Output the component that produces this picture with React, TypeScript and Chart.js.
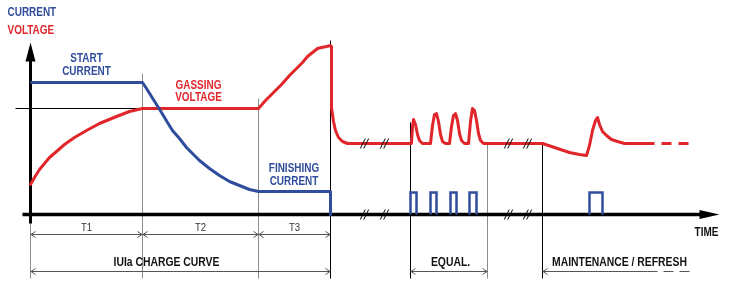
import React, { useEffect, useRef } from "react";
import { Chart, registerables } from "chart.js";

Chart.register(...registerables);

const RED = "#e1262b";
const BLUE = "#2f4d9c";
const GREY = "#8c8c8c";
const FONT = '"Liberation Sans", Arial, sans-serif';
const NARROW = 0.83;

// Voltage curve (t = time, v = level above the time axis)
const voltageT = [0, 4, 9, 14, 19, 26, 34, 44, 56, 69, 86, 99, 112, 228, 235, 242, 251, 259, 266, 272, 277, 282, 287, 291, 296, 300, 301, 301, 303, 305, 308, 312, 317, 381, 382, 383, 385, 387, 389, 392, 400, 402, 404, 406, 408, 410, 412, 415, 419, 421, 423, 425, 427, 429, 431, 434, 438, 440, 442, 444, 446, 448, 450, 453, 512, 524, 539, 549, 556, 559, 562, 565, 567, 569, 572, 576, 581, 587, 594, 614];
const voltageV = [30, 37, 45, 51, 57, 63, 70, 77, 84, 91, 98, 103, 106, 106, 114, 121, 130, 139, 146, 152, 158, 162, 166, 167, 168, 169, 168, 107, 93, 84, 77, 73, 71, 71, 88, 95, 90, 80, 74, 71, 71, 89, 100, 101, 93, 80, 73, 71, 71, 88, 99, 101, 94, 81, 74, 71, 71, 93, 106, 104, 94, 81, 74, 71, 71, 67, 62, 60, 59, 69, 84, 94, 97, 90, 83, 79, 75, 73, 71, 71];
const voltageTailT = [614, 661];
const voltageTailV = [71, 71];

// Current curve
const currentT = [0, 112, 116, 121, 126, 131, 137, 142, 149, 156, 163, 169, 179, 189, 199, 209, 219, 228, 300, 300];
const currentV = [132, 132, 126, 118, 110, 102, 92, 84, 76, 67, 60, 54, 46, 39, 33, 29, 25, 23, 23, 0];

// Equalisation / refresh current pulses
const pulseStartT = [380, 400, 420, 439, 559];
const pulseEndT = [386, 406, 426, 446, 572];
const pulseLevel = 22;

// Phases and annotations
const phaseBoundsT = [0, 112, 228, 300];
const phaseLabels = ["T1", "T2", "T3"];
const chargeSpanT = [0, 300];
const equalSpanT = [380, 457];
const maintSpanT = [512, 617, 661];
const guideT = [0, 112, 228, 300, 380, 457, 512];
const guideTopV = [0, 141, 116, 174, 92, 71, 71];
const guideDark = [false, false, false, true, true, false, true];
const gassingLevelV = 106;
const breakT = [334, 354, 478, 497];
const breakLevelsV = [71, 0];

const labelTexts = ["CURRENT", "VOLTAGE", "START", "CURRENT", "GASSING", "VOLTAGE", "FINISHING", "CURRENT", "IUIa CHARGE CURVE", "EQUAL.", "MAINTENANCE / REFRESH", "TIME"];
const labelT = [-23, -23, 56, 56, 168, 168, 263.5, 263.5, 136, 420, 589, 676];
const labelV = [202, 184, 156, 143, 129, 117, 46, 33, -48, -48, -48, -18];
const labelSize = [12, 12, 12, 12, 12, 12, 12, 12, 12.5, 12.5, 12.5, 12];
const labelColors = [BLUE, RED, BLUE, BLUE, RED, RED, BLUE, BLUE, "#111", "#111", "#111", "#111"];
const labelAlign = ["left", "left", "center", "center", "center", "center", "center", "center", "center", "center", "center", "center"];

const toPoints = (ts: number[], vs: number[]) => ts.map((t, i) => ({ x: t, y: vs[i] }));

const pulsePoints = () => {
  const pts: { x: number; y: number | null }[] = [];
  pulseStartT.forEach((s, i) => {
    const e = pulseEndT[i];
    pts.push({ x: s, y: 0 }, { x: s, y: pulseLevel }, { x: e, y: pulseLevel }, { x: e, y: 0 }, { x: e + 0.1, y: null });
  });
  return pts;
};

const narrowText = (ctx: CanvasRenderingContext2D, txt: string, px: number, py: number, align: CanvasTextAlign, scale: number) => {
  ctx.save();
  ctx.translate(px, py);
  ctx.scale(scale, 1);
  ctx.textAlign = align;
  ctx.fillText(txt, 0, 0);
  ctx.restore();
};

const diagramPlugin = {
  id: "diagram",
  beforeDatasetsDraw(chart: any) {
    const { ctx } = chart;
    const xs = chart.scales.x;
    const ys = chart.scales.y;
    const X = (t: number) => xs.getPixelForValue(t);
    const Y = (v: number) => ys.getPixelForValue(v);
    const bottom = -64;
    ctx.save();
    ctx.lineWidth = 1;
    guideT.forEach((t, i) => {
      ctx.strokeStyle = guideDark[i] ? "#000" : GREY;
      ctx.beginPath();
      ctx.moveTo(X(t), Y(guideTopV[i]));
      ctx.lineTo(X(t), Y(bottom));
      ctx.stroke();
    });
    // gassing reference line
    ctx.strokeStyle = "#000";
    ctx.beginPath();
    ctx.moveTo(X(-15), Y(gassingLevelV));
    ctx.lineTo(X(phaseBoundsT[2]), Y(gassingLevelV));
    ctx.stroke();

    // axes
    ctx.fillStyle = "#000";
    ctx.strokeStyle = "#000";
    ctx.lineWidth = 3;
    ctx.beginPath();
    ctx.moveTo(X(0), Y(-9));
    ctx.lineTo(X(0), Y(155));
    ctx.stroke();
    ctx.beginPath();
    ctx.moveTo(X(0), Y(172));
    ctx.lineTo(X(-5), Y(153));
    ctx.lineTo(X(5), Y(153));
    ctx.closePath();
    ctx.fill();
    ctx.lineWidth = 3.5;
    ctx.beginPath();
    ctx.moveTo(X(-8), Y(0));
    ctx.lineTo(X(672), Y(0));
    ctx.stroke();
    ctx.beginPath();
    ctx.moveTo(X(689), Y(0));
    ctx.lineTo(X(669), Y(4.5));
    ctx.lineTo(X(669), Y(-4.5));
    ctx.closePath();
    ctx.fill();
    ctx.restore();
  },
  afterDatasetsDraw(chart: any) {
    const { ctx } = chart;
    const xs = chart.scales.x;
    const ys = chart.scales.y;
    const X = (t: number) => xs.getPixelForValue(t);
    const Y = (v: number) => ys.getPixelForValue(v);
    ctx.save();

    // break marks
    ctx.strokeStyle = "#000";
    ctx.lineWidth = 1;
    breakT.forEach((t) => {
      breakLevelsV.forEach((v) => {
        [-1.7, 1.7].forEach((d) => {
          ctx.beginPath();
          ctx.moveTo(X(t + d) - 2.5, Y(v) + 5);
          ctx.lineTo(X(t + d) + 2.5, Y(v) - 5);
          ctx.stroke();
        });
      });
    });

    // dimension lines
    const dim = (t1: number, t2: number, v: number, left: boolean, right: boolean, dashed = false) => {
      ctx.strokeStyle = "#555";
      ctx.lineWidth = 1;
      ctx.setLineDash(dashed ? [10, 6] : []);
      ctx.beginPath();
      ctx.moveTo(X(t1), Y(v));
      ctx.lineTo(X(t2), Y(v));
      ctx.stroke();
      ctx.setLineDash([]);
      if (left) {
        ctx.beginPath();
        ctx.moveTo(X(t1) + 5, Y(v) - 3);
        ctx.lineTo(X(t1) + 0.5, Y(v));
        ctx.lineTo(X(t1) + 5, Y(v) + 3);
        ctx.stroke();
      }
      if (right) {
        ctx.beginPath();
        ctx.moveTo(X(t2) - 5, Y(v) - 3);
        ctx.lineTo(X(t2) - 0.5, Y(v));
        ctx.lineTo(X(t2) - 5, Y(v) + 3);
        ctx.stroke();
      }
    };
    const rowT = -20;
    const rowB = -57;
    for (let i = 0; i < phaseLabels.length; i++) {
      dim(phaseBoundsT[i], phaseBoundsT[i + 1], rowT, true, true);
    }
    dim(chargeSpanT[0], chargeSpanT[1], rowB, true, true);
    dim(equalSpanT[0], equalSpanT[1], rowB, true, true);
    dim(maintSpanT[0], maintSpanT[1], rowB, true, false);
    dim(maintSpanT[1], maintSpanT[2], rowB, false, false, true);

    // texts
    ctx.textBaseline = "middle";
    ctx.font = `normal 11.5px ${FONT}`;
    ctx.fillStyle = "#333";
    phaseLabels.forEach((lab, i) => {
      narrowText(ctx, lab, X((phaseBoundsT[i] + phaseBoundsT[i + 1]) / 2), Y(-13), "center", NARROW);
    });
    labelTexts.forEach((txt, i) => {
      ctx.font = `bold ${labelSize[i]}px ${FONT}`;
      ctx.fillStyle = labelColors[i];
      narrowText(ctx, txt, X(labelT[i]), Y(labelV[i]), labelAlign[i] as CanvasTextAlign, NARROW);
    });
    ctx.restore();
  },
};

export default function App() {
  const ref = useRef<HTMLCanvasElement | null>(null);
  useEffect(() => {
    if (!ref.current) return;
    const chart = new Chart(ref.current, {
      type: "line",
      data: {
        datasets: [
          {
            data: toPoints(currentT, currentV),
            borderColor: BLUE,
            borderWidth: 3,
            pointRadius: 0,
            tension: 0,
            borderJoinStyle: "round",
          },
          {
            data: pulsePoints(),
            borderColor: BLUE,
            borderWidth: 2.5,
            pointRadius: 0,
            tension: 0,
            spanGaps: false,
          },
          {
            data: toPoints(voltageT, voltageV),
            borderColor: RED,
            borderWidth: 3,
            pointRadius: 0,
            tension: 0,
            borderJoinStyle: "round",
            borderCapStyle: "round",
          },
          {
            data: toPoints(voltageTailT, voltageTailV),
            borderColor: RED,
            borderWidth: 3,
            pointRadius: 0,
            borderDash: [10, 7],
          },
        ] as any,
      },
      options: {
        responsive: false,
        animation: false,
        events: [],
        layout: { padding: 0 },
        plugins: { legend: { display: false }, tooltip: { enabled: false } },
        scales: {
          x: { type: "linear", min: -30.5, max: 698.5, display: false },
          y: { type: "linear", min: -68.5, max: 214.5, display: false },
        },
      },
      plugins: [diagramPlugin],
    });
    return () => chart.destroy();
  }, []);
  return (
    <div style={{ position: "absolute", left: 0, top: 0, width: 729, height: 283, background: "#fff" }}>
      <canvas ref={ref} width={729} height={283} style={{ display: "block" }} />
    </div>
  );
}
